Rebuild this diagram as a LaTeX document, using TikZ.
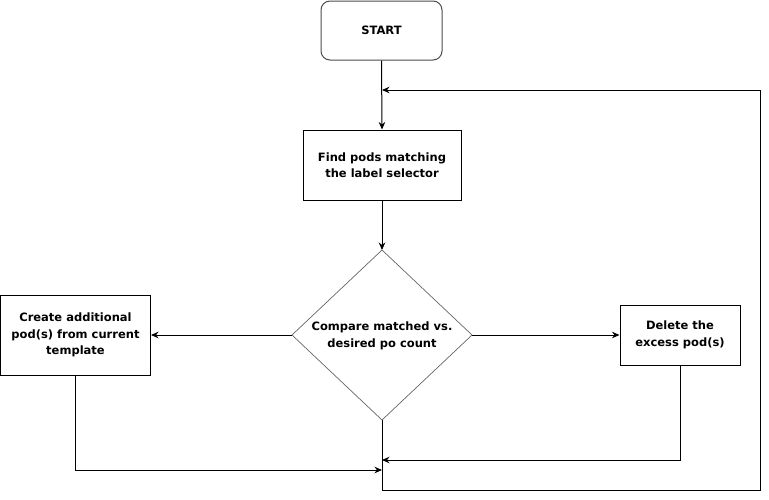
\documentclass[tikz,border=0pt]{standalone}
\usepackage{fontspec}
\setmainfont{DejaVu Sans}
\usetikzlibrary{shapes.geometric,arrows.meta}
\begin{document}
\begin{tikzpicture}[x=1pt,y=-1pt,
  every node/.style={font=\bfseries\fontsize{11.5}{16.5}\selectfont, align=center, inner sep=0pt},
  procbox/.style={draw=black, line width=1pt, rectangle},
  startbox/.style={draw=black!70, line width=1pt, rounded corners=9pt},
  decision/.style={draw=black!60, line width=0.7pt},
  arr/.style={-{Stealth[length=7.5pt,width=6.5pt]}, line width=1pt},
  ln/.style={line width=1pt}]
\useasboundingbox (0,0) rectangle (769,499);
\node[startbox, minimum width=121pt, minimum height=59pt] (start) at (381.5,30.5) {START};
\node[procbox, minimum width=158pt, minimum height=70pt] (find) at (382,165) {Find pods matching\\the label selector};
\coordinate (dtop) at (382,250);
\coordinate (dleft) at (292,335);
\coordinate (dright) at (472,335);
\coordinate (dbot) at (382,420);
\draw[decision] (dtop) -- (dright) -- (dbot) -- (dleft) -- cycle;
\node (cmp) at (382,336) {Compare matched vs.\\desired po count};
\node[procbox, minimum width=150pt, minimum height=80pt] (create) at (75.5,335) {Create additional\\pod(s) from current\\template};
\node[procbox, minimum width=120pt, minimum height=60pt] (del) at (680,335) {Delete the\\excess pod(s)};
\coordinate (loopin) at (382,90);
\coordinate (j1) at (382,460);
\coordinate (j2) at (382,470);
\coordinate (c1) at (75.5,470);
\coordinate (d1) at (680,460);
\coordinate (b1) at (382,490);
\coordinate (b2) at (760,490);
\coordinate (b3) at (760,90);
\draw[arr] (start.south) -- (find.north);
\draw[arr] (find.south) -- (dtop);
\draw[arr] (dleft) -- (create.east);
\draw[arr] (dright) -- (del.west);
\draw[arr] (create.south) -- (c1) -- (j2);
\draw[arr] (del.south) -- (d1) -- (j1);
\draw[arr] (dbot) -- (b1) -- (b2) -- (b3) -- (loopin);
\end{tikzpicture}
\end{document}
